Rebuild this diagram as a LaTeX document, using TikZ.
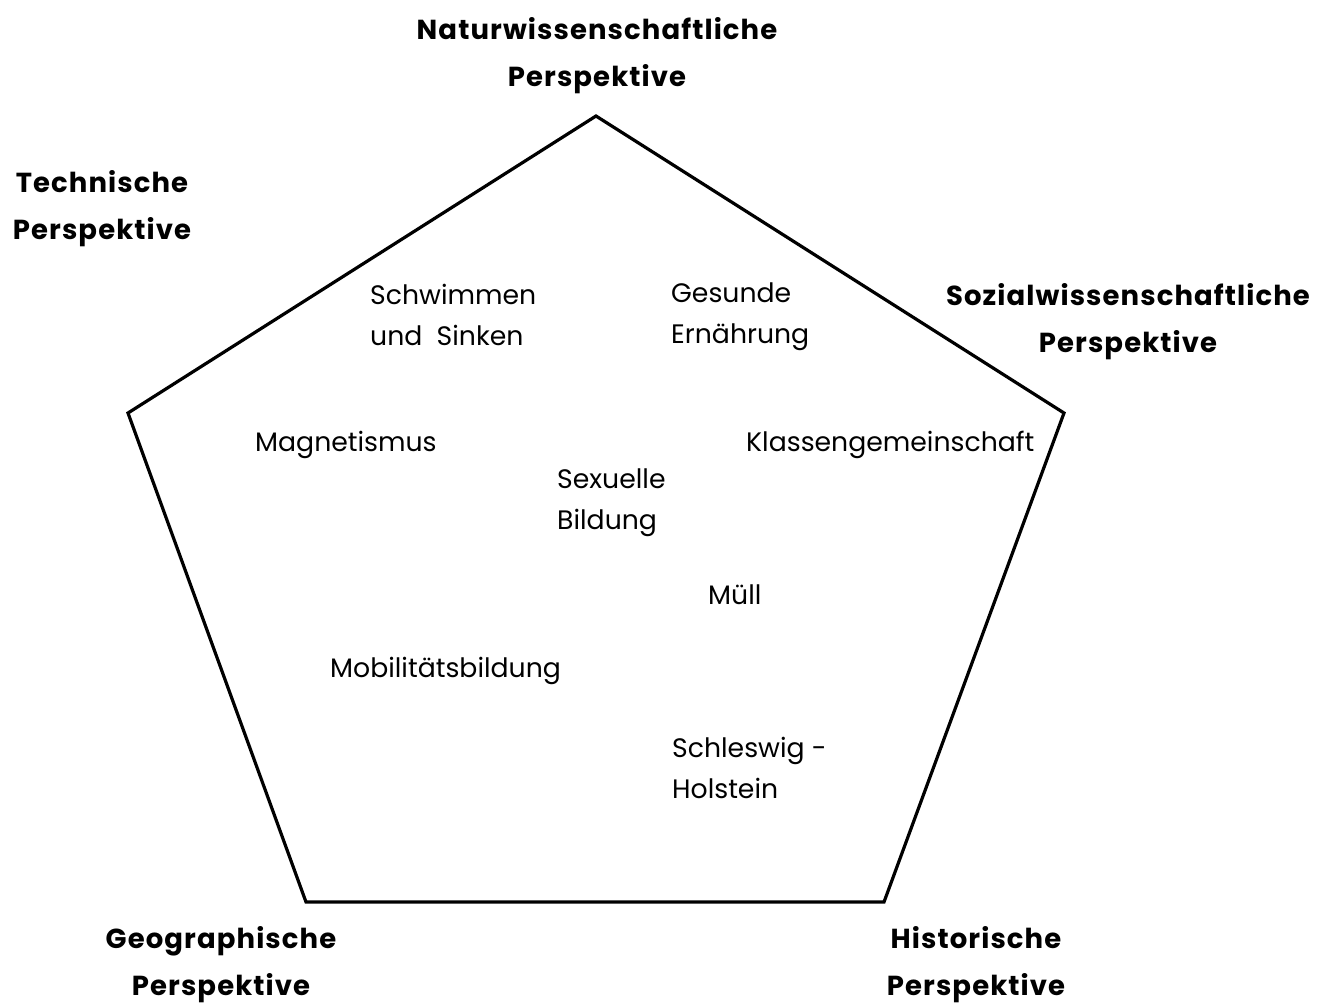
\documentclass[tikz,border=0pt]{standalone}
\usepackage{fontspec}
\setmainfont{Poppins}
\newfontfamily\perspfont[LetterSpace=4]{Poppins}
\begin{document}
\begin{tikzpicture}[x=1pt,y=-1pt,
  persp/.style={font=\perspfont\fontsize{27.5}{47}\selectfont\bfseries, align=center, inner sep=0pt},
  topic/.style={font=\fontsize{26.7}{41}\selectfont, align=left, anchor=west, inner sep=0pt}]
\useasboundingbox (0,0) rectangle (1333,1004);
\coordinate (T) at (596,116);
\coordinate (R) at (1064,413);
\coordinate (BR) at (884,902);
\coordinate (BL) at (306,902);
\coordinate (L) at (128,413);
\draw[line width=3.2pt, line join=miter] (T) -- (R) -- (BR) -- (BL) -- (L) -- cycle;
\node[persp] (nat) at (597,55.5) {Naturwissenschaftliche\\Perspektive};
\node[persp] (tec) at (102,208.5) {Technische\\Perspektive};
\node[persp] (soz) at (1128,321.5) {Sozialwissenschaftliche\\Perspektive};
\node[persp] (geo) at (221,964.5) {Geographische\\Perspektive};
\node[persp] (his) at (976,964.5) {Historische\\Perspektive};
\node[topic] (sch) at (370,315) {Schwimmen\\und\ \ Sinken};
\node[topic] (ges) at (671,317) {Gesunde\\Ernährung};
\node[topic] (mag) at (255,445) {Magnetismus};
\node[topic] (kla) at (746,445) {Klassengemeinschaft};
\node[topic] (sex) at (557,503) {Sexuelle\\Bildung};
\node[topic] (mue) at (708,595) {Müll};
\node[topic] (mob) at (330,671) {Mobilitätsbildung};
\node[topic] (shl) at (672,768) {Schleswig -\\Holstein};
\end{tikzpicture}
\end{document}
